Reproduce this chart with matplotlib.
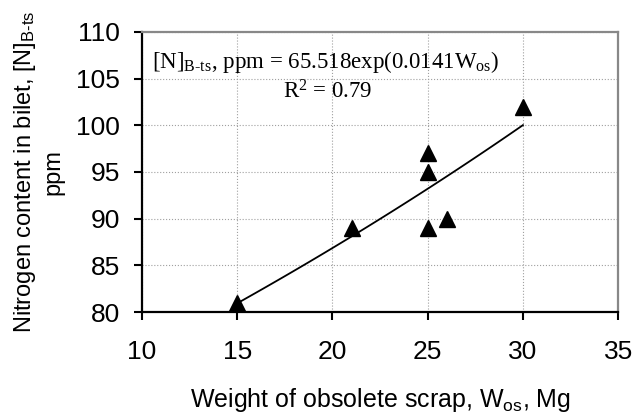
import numpy as np
import matplotlib
matplotlib.use('Agg')
import matplotlib.pyplot as plt

# Measured points
w_os = [15, 21, 25, 25, 25, 26, 30]
n_bts = [81, 89, 97, 95, 89, 90, 102]

# Fit: [N] = 65.518 exp(0.0141 W)
fit_a = 65.518
fit_b = 0.0141
fit_range = [15, 30]

xticks = [10, 15, 20, 25, 30, 35]
yticks = [80, 85, 90, 95, 100, 105, 110]

plt.rcParams['font.family'] = ['Liberation Sans', 'DejaVu Sans']
plt.rcParams['mathtext.default'] = 'regular'

fig = plt.figure(figsize=(6.34, 4.19), dpi=100)
ax = fig.add_axes([0.224, 0.255, 0.751, 0.669])

xf = np.linspace(fit_range[0], fit_range[1], 100)
ax.plot(xf, fit_a * np.exp(fit_b * xf), color='black', lw=1.3, zorder=3)
ax.plot(w_os, n_bts, linestyle='none', marker='^', ms=11, color='black', zorder=4,
        clip_on=False)

ax.set_xlim(10, 35)
ax.set_ylim(80, 110)
ax.set_xticks(xticks)
ax.set_yticks(yticks)
ax.grid(True, linestyle=':', color='#a0a0a0', lw=0.8)
ax.set_axisbelow(True)

for s in ['left', 'bottom']:
    ax.spines[s].set_color('black')
    ax.spines[s].set_linewidth(1.6)
for s in ['top', 'right']:
    ax.spines[s].set_color('#888888')
    ax.spines[s].set_linewidth(1.6)

ax.tick_params(direction='out', length=6, width=1.5, labelsize=19, pad=10)
ax.tick_params(axis='x', pad=14)

ax.set_xlabel('Weight of obsolete scrap, W$_{os}$, Mg', fontsize=18, labelpad=16)
ax.set_ylabel('Nitrogen content in bilet, [N]$_{B\u2010ts}$\nppm', fontsize=17,
              labelpad=8, linespacing=1.3)

ax.text(0.021, 0.893, '[N]$_{B\u2010ts}$, ppm = 65.518exp(0.0141W$_{os}$)',
        transform=ax.transAxes, family=['Liberation Serif', 'DejaVu Serif'],
        fontsize=16.5, va='center')
ax.text(0.296, 0.786, 'R$^{2}$ = 0.79', transform=ax.transAxes,
        family=['Liberation Serif', 'DejaVu Serif'], fontsize=16.5, va='center')

fig.savefig('out.png', dpi=100)
